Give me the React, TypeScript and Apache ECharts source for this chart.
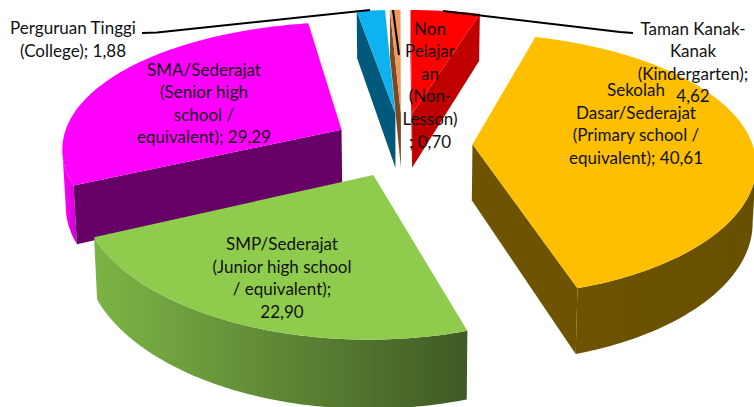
import React, { useEffect, useRef } from "react";
import * as echarts from "echarts";

// ---- data ----
const values = [4.62, 40.61, 22.9, 29.29, 1.88, 0.7];
const fmt = (v: number) => v.toFixed(2).replace(".", ",");
const labels = [
  "Taman Kanak-\nKanak\n(Kindergarten);\n" + fmt(values[0]),
  "Sekolah\nDasar/Sederajat\n(Primary school /\nequivalent); " + fmt(values[1]),
  "SMP/Sederajat\n(Junior high school\n/ equivalent);\n" + fmt(values[2]),
  "SMA/Sederajat\n(Senior high\nschool /\nequivalent); " + fmt(values[3]),
  "Perguruan Tinggi\n(College); " + fmt(values[4]),
  "Non\nPelajar\nan\n(Non-\nLesson)\n; " + fmt(values[5]),
];

// ---- styles ----
const topColors = ["#FF0000", "#FDBF00", "#8FCC4D", "#FF00FF", "#0DB2EE", "#EE9A5C"];
const cutColors = ["#C00000", "#6E5300", "#4F7A2A", "#660066", "#00597A", "#7A4A22"];
const sideLeft = ["#C00000", "#6E5300", "#7DB445", "#FF00FF", "#00597A", "#7A4A22"];
const sideRight = ["#A00000", "#665000", "#3F5A25", "#D000D0", "#00597A", "#7A4A22"];
const depthOrder = [3, 5, 6, 4, 1, 2];
const labelPos = [
  [693, 62],
  [636, 123.5],
  [282, 277.5],
  [204, 103],
  [73, 39],
  [430, 84.5],
];
const leaderLines: number[][][] = [
  [[443, 11], [620, 32], [633, 33]],
  [],
  [],
  [],
  [[370, 10], [157, 32.5], [142, 33]],
  [[393, 10], [399, 55]],
];

// ---- projection of the tilted pie ----
const CX = 402.5, CY = 144.5, A = 128.6, B = 280, P = 0.155, PX = 0.13, H = 56, EXPLODE = 0.25, FIRST = -0.13;
const rad = (d: number) => (d * Math.PI) / 180;

const project = (X: number, Y: number, bottom: boolean) => {
  const s = 1 / (1 + P * Y);
  let x = CX + (B * X) / (1 + PX * Y);
  let y = CY - A * Y * s;
  if (bottom) {
    y += H * s;
    x = CX + (x - CX) * 0.99;
  }
  return [x, y];
};

const total = values.reduce((a, b) => a + b, 0);
const cumulative = values.map((_, i) => values.slice(0, i).reduce((a, b) => a + b, 0));

const renderItem = (params: any, api: any) => {
  const i = params.dataIndex;
  const value = api.value(0);
  const cum = api.value(1);
  const t0 = FIRST + (cum / total) * 360;
  const t1 = t0 + (value / total) * 360;
  const mid = rad((t0 + t1) / 2);
  const ex = EXPLODE * Math.sin(mid);
  const ey = EXPLODE * Math.cos(mid);
  const at = (theta: number | null, bottom: boolean) =>
    theta === null
      ? project(ex, ey, bottom)
      : project(Math.sin(rad(theta)) + ex, Math.cos(rad(theta)) + ey, bottom);

  const steps = Math.max(4, Math.ceil(t1 - t0));
  const thetas: number[] = [];
  for (let k = 0; k <= steps; k++) thetas.push(t0 + ((t1 - t0) * k) / steps);
  const arcTop = thetas.map((t) => at(t, false));
  const arcBottom = thetas.map((t) => at(t, true));
  const apexTop = at(null, false);
  const apexBottom = at(null, true);
  const base = depthOrder[i] * 10;
  const children: any[] = [];

  // outer rim: only the part that faces the viewer
  const run: number[] = [];
  for (let k = 0; k < steps; k++) {
    if (arcTop[k + 1][0] < arcTop[k][0]) {
      if (!run.length) run.push(k);
      run.push(k + 1);
    }
  }
  if (run.length > 1) {
    const pts = [...run.map((k) => arcTop[k]), ...run.slice().reverse().map((k) => arcBottom[k])];
    children.push({
      type: "polygon",
      z2: base,
      silent: true,
      shape: { points: pts },
      style: {
        fill: new echarts.graphic.LinearGradient(0, 0, 1, 0, [
          { offset: 0, color: sideLeft[i] },
          { offset: 1, color: sideRight[i] },
        ]),
      },
    });
  }

  // radial cut faces
  const pS = arcTop[0];
  const pE = arcTop[steps];
  if (pS[0] < apexTop[0]) {
    children.push({
      type: "polygon",
      z2: base + 1,
      silent: true,
      shape: { points: [apexTop, pS, arcBottom[0], apexBottom] },
      style: { fill: cutColors[i] },
    });
  }
  if (apexTop[0] < pE[0]) {
    children.push({
      type: "polygon",
      z2: base + 1,
      silent: true,
      shape: { points: [apexTop, pE, arcBottom[steps], apexBottom] },
      style: { fill: cutColors[i] },
    });
  }

  // top face
  children.push({
    type: "polygon",
    z2: base + 2,
    silent: true,
    shape: { points: [apexTop, ...arcTop] },
    style: { fill: topColors[i] },
  });

  // label and leader line
  children.push({
    type: "text",
    z2: 200,
    silent: true,
    x: labelPos[i][0],
    y: labelPos[i][1],
    style: {
      text: labels[i],
      fill: "#111111",
      font: '17px Lato, "Noto Sans", sans-serif',
      lineHeight: 22.6,
      align: "center",
      verticalAlign: "middle",
    },
  });
  if (leaderLines[i].length) {
    children.push({
      type: "polyline",
      z2: 201,
      silent: true,
      shape: { points: leaderLines[i] },
      style: { stroke: "#000000", lineWidth: 2, fill: "none" },
    });
  }
  return { type: "group", children };
};

export default function App() {
  const ref = useRef<HTMLDivElement>(null);
  useEffect(() => {
    document.body.style.margin = "0";
    document.body.style.background = "#ffffff";
    const chart = echarts.init(ref.current!, undefined, { renderer: "svg" });
    chart.setOption({
      animation: false,
      backgroundColor: "#ffffff",
      series: [
        {
          type: "custom",
          coordinateSystem: "none",
          renderItem,
          silent: true,
          data: values.map((v, i) => [v, cumulative[i]]),
        },
      ],
    });
    return () => chart.dispose();
  }, []);
  return <div ref={ref} style={{ width: 754, height: 407 }} />;
}
